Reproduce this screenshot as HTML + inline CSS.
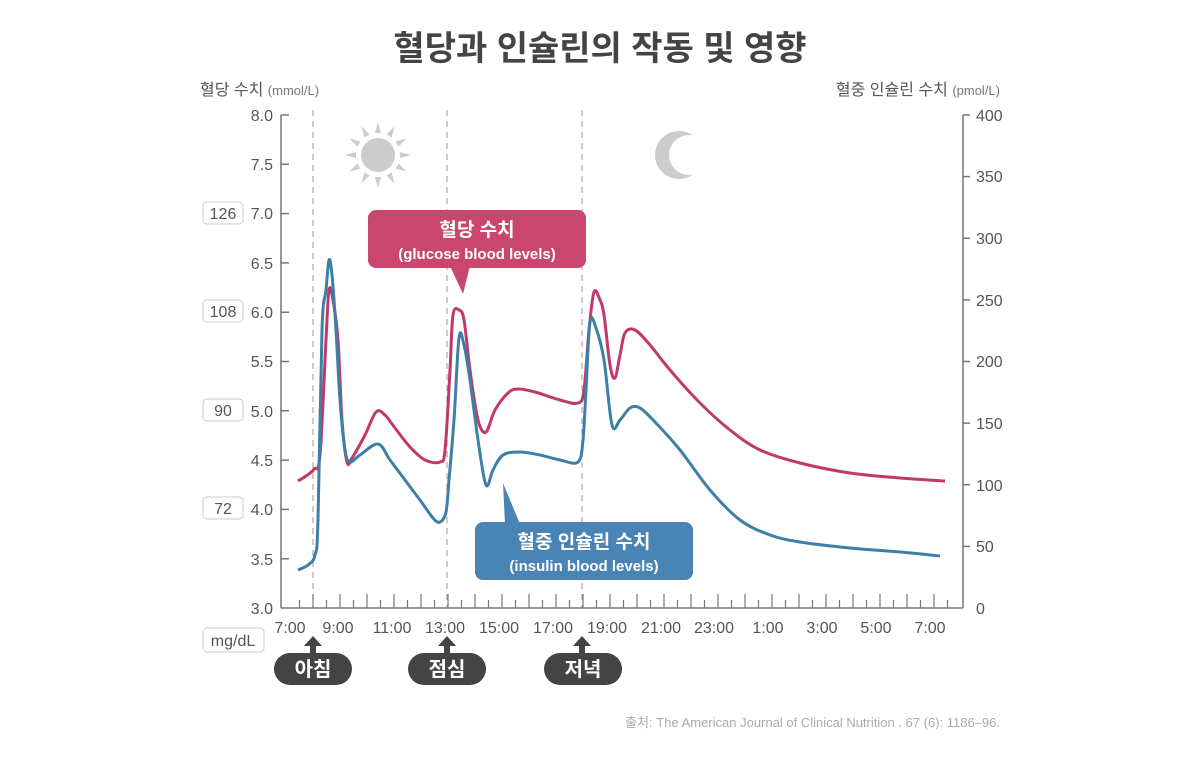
<!DOCTYPE html>
<html><head><meta charset="utf-8"><style>
body{margin:0;background:#fff;}
svg text{font-family:"Liberation Sans","Noto Sans CJK KR",sans-serif;}
</style></head><body>
<svg width="1200" height="754" viewBox="0 0 1200 754" xmlns="http://www.w3.org/2000/svg">
<defs><mask id="mm"><rect width="1200" height="754" fill="#fff"/><circle cx="689" cy="155" r="20" fill="#000"/></mask></defs>
<rect width="1200" height="754" fill="#fff"/>
<text x="600" y="60" text-anchor="middle" font-size="34" font-weight="bold" fill="#444">혈당과 인슐린의 작동 및 영향</text>
<text x="200" y="95" font-size="16" fill="#555">혈당 수치 <tspan font-size="13" fill="#777">(mmol/L)</tspan></text>
<text x="1000" y="95" text-anchor="end" font-size="16" fill="#555">혈중 인슐린 수치 <tspan font-size="13" fill="#777">(pmol/L)</tspan></text>
<g stroke="#aaa" stroke-width="1.2" stroke-dasharray="6,5">
<line x1="313" y1="110" x2="313" y2="608"/><line x1="447" y1="110" x2="447" y2="608"/><line x1="582" y1="110" x2="582" y2="608"/>
</g>
<g stroke="#777" stroke-width="1.5" fill="none">
<line x1="281" y1="115" x2="281" y2="608"/><line x1="281" y1="608" x2="963" y2="608"/><line x1="963" y1="115" x2="963" y2="608"/>
<path d="M281 115h8M281 164.3h8M281 213.6h8M281 262.9h8M281 312.2h8M281 361.5h8M281 410.8h8M281 460.1h8M281 509.4h8M281 558.7h8"/>
<path d="M963 115h7M963 176.6h7M963 238.3h7M963 299.9h7M963 361.5h7M963 423.1h7M963 484.8h7M963 546.4h7"/>
</g>
<g font-size="16" fill="#555" text-anchor="end">
<text x="273" y="121">8.0</text><text x="273" y="170">7.5</text><text x="273" y="219">7.0</text><text x="273" y="269">6.5</text><text x="273" y="318">6.0</text><text x="273" y="367">5.5</text><text x="273" y="417">5.0</text><text x="273" y="466">4.5</text><text x="273" y="515">4.0</text><text x="273" y="565">3.5</text><text x="273" y="614">3.0</text>
</g>
<g font-size="16" fill="#555">
<text x="976" y="121">400</text><text x="976" y="182">350</text><text x="976" y="244">300</text><text x="976" y="306">250</text><text x="976" y="367">200</text><text x="976" y="429">150</text><text x="976" y="491">100</text><text x="976" y="552">50</text><text x="976" y="614">0</text>
</g>
<g fill="#fff" stroke="#ccc" stroke-width="1">
<rect x="203" y="202" width="40" height="22" rx="4"/><rect x="203" y="300" width="40" height="22" rx="4"/><rect x="203" y="399" width="40" height="22" rx="4"/><rect x="203" y="497" width="40" height="22" rx="4"/><rect x="203" y="628" width="61" height="24" rx="4"/>
</g>
<g font-size="16" fill="#555" text-anchor="middle">
<text x="223" y="219">126</text><text x="223" y="317">108</text><text x="223" y="416">90</text><text x="223" y="514">72</text><text x="233" y="646">mg/dL</text>
</g>
<g font-size="16" fill="#555" text-anchor="middle">
<text x="290" y="633">7:00</text><text x="338" y="633">9:00</text><text x="392" y="633">11:00</text><text x="445" y="633">13:00</text><text x="499" y="633">15:00</text><text x="553" y="633">17:00</text><text x="607" y="633">19:00</text><text x="661" y="633">21:00</text><text x="714" y="633">23:00</text><text x="768" y="633">1:00</text><text x="822" y="633">3:00</text><text x="876" y="633">5:00</text><text x="930" y="633">7:00</text>
</g>
<path stroke="#777" stroke-width="1.2" d="M299.5 608v-8M313 608v-14M326.5 608v-8M340 608v-14M353.5 608v-8M367 608v-14M380.5 608v-8M394 608v-14M407.5 608v-8M421 608v-14M434.5 608v-8M448 608v-14M461.5 608v-8M475 608v-14M488.5 608v-8M502 608v-14M515.5 608v-8M529 608v-14M542.5 608v-8M556 608v-14M569.5 608v-8M583 608v-14M596.5 608v-8M610 608v-14M623.5 608v-8M637 608v-14M650.5 608v-8M664 608v-14M677.5 608v-8M691 608v-14M704.5 608v-8M718 608v-14M731.5 608v-8M745 608v-14M758.5 608v-8M772 608v-14M785.5 608v-8M799 608v-14M812.5 608v-8M826 608v-14M839.5 608v-8M853 608v-14M866.5 608v-8M880 608v-14M893.5 608v-8M907 608v-14M920.5 608v-8M934 608v-14M947.5 608v-8"/>
<g fill="#ccc">
<circle cx="378" cy="155" r="17"/>
<g transform="translate(378,155)">
<path d="M-3 -22L0 -33L3 -22Z"/><path d="M-3 -22L0 -33L3 -22Z" transform="rotate(30)"/><path d="M-3 -22L0 -33L3 -22Z" transform="rotate(60)"/><path d="M-3 -22L0 -33L3 -22Z" transform="rotate(90)"/><path d="M-3 -22L0 -33L3 -22Z" transform="rotate(120)"/><path d="M-3 -22L0 -33L3 -22Z" transform="rotate(150)"/><path d="M-3 -22L0 -33L3 -22Z" transform="rotate(180)"/><path d="M-3 -22L0 -33L3 -22Z" transform="rotate(210)"/><path d="M-3 -22L0 -33L3 -22Z" transform="rotate(240)"/><path d="M-3 -22L0 -33L3 -22Z" transform="rotate(270)"/><path d="M-3 -22L0 -33L3 -22Z" transform="rotate(300)"/><path d="M-3 -22L0 -33L3 -22Z" transform="rotate(330)"/>
</g>
<circle cx="679" cy="155" r="24" mask="url(#mm)"/>
</g>
<path id="g" fill="none" stroke="#c0396b" stroke-width="3" stroke-linejoin="round" d=""/>
<path id="b" fill="none" stroke="#3d7fa6" stroke-width="3" stroke-linejoin="round" d=""/>
<rect x="368" y="210" width="218" height="58" rx="8" fill="#c9466f"/>
<path d="M450 266L463 294L470 266Z" fill="#c9466f"/>
<text x="477" y="236" text-anchor="middle" font-size="19" font-weight="bold" fill="#fff">혈당 수치</text>
<text x="477" y="259" text-anchor="middle" font-size="15" font-weight="bold" fill="#fff">(glucose blood levels)</text>
<rect x="475" y="522" width="218" height="58" rx="8" fill="#4a84b5"/>
<path d="M505 524L503 483L520 524Z" fill="#4a84b5"/>
<text x="584" y="548" text-anchor="middle" font-size="19" font-weight="bold" fill="#fff">혈중 인슐린 수치</text>
<text x="584" y="571" text-anchor="middle" font-size="15" font-weight="bold" fill="#fff">(insulin blood levels)</text>
<g fill="#444">
<path d="M313 636l-9 10h6v8h6v-8h6Z"/><path d="M447 636l-9 10h6v8h6v-8h6Z"/><path d="M582 636l-9 10h6v8h6v-8h6Z"/>
<rect x="274" y="653" width="78" height="32" rx="16"/><rect x="408" y="653" width="78" height="32" rx="16"/><rect x="544" y="653" width="78" height="32" rx="16"/>
</g>
<g font-size="20" font-weight="bold" fill="#fff" text-anchor="middle">
<text x="313" y="676">아침</text><text x="447" y="676">점심</text><text x="583" y="676">저녁</text>
</g>
<text x="1000" y="727" text-anchor="end" font-size="13" fill="#aaa">출처: The American Journal of Clinical Nutrition . 67 (6): 1186–96.</text>
</svg>
<script>
function cr(p){var d="M"+p[0][0]+" "+p[0][1];for(var i=0;i<p.length-1;i++){var a=p[i-1]||p[i],b=p[i],c=p[i+1],e=p[i+2]||c;var t=6;d+="C"+(b[0]+(c[0]-a[0])/t).toFixed(1)+" "+(b[1]+(c[1]-a[1])/t).toFixed(1)+" "+(c[0]-(e[0]-b[0])/t).toFixed(1)+" "+(c[1]-(e[1]-b[1])/t).toFixed(1)+" "+c[0]+" "+c[1];}return d;}
var G=[[298,481],[306,476],[314,469],[320,455],[326,340],[329,290],[333,300],[338,340],[342,420],[347,462],[352,458],[365,435],[376,412],[385,415],[395,428],[410,447],[425,460],[440,462],[445,450],[450,370],[453,315],[459,310],[464,320],[470,370],[478,420],[486,432],[495,410],[508,393],[518,389],[535,392],[560,400],[578,403],[584,390],[589,330],[594,292],[600,300],[604,315],[610,365],[615,378],[620,355],[625,333],[635,330],[650,345],[670,370],[700,403],[730,430],[760,450],[800,463],[850,473],[900,478],[945,481]];
var B=[[298,570],[308,565],[315,555],[318,520],[322,330],[326,290],[329,260],[332,275],[336,330],[340,400],[345,450],[350,462],[360,455],[378,444],[390,460],[405,480],[420,500],[433,518],[440,522],[446,512],[449,480],[454,420],[459,338],[464,345],[470,380],[478,440],[486,485],[493,470],[503,455],[520,452],[540,455],[560,460],[578,462],[583,440],[586,390],[590,322],[596,328],[604,360],[612,425],[620,420],[630,408],[640,408],[655,422],[680,450],[710,490],[740,520],[770,535],[800,542],[850,548],[900,552],[940,556]];
document.getElementById("g").setAttribute("d",cr(G));
document.getElementById("b").setAttribute("d",cr(B));
</script>
</body></html>
